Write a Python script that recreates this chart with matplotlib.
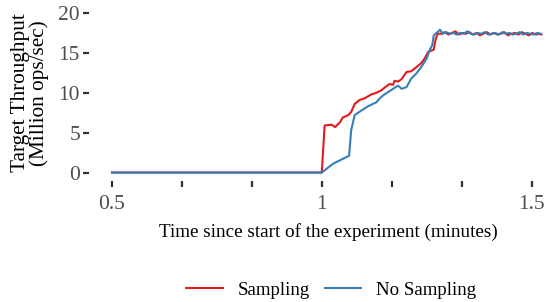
import matplotlib
matplotlib.use("Agg")
from matplotlib import pyplot as plt
import numpy as np

# Throughput over time (time in seconds since experiment start, throughput in Mops/s)
sec_sampling = [30, 60, 60.4, 61.4, 61.9, 62.6, 63.0, 63.8, 64.2, 64.7, 65.4, 66.1, 67.1, 67.8,
                68.5, 69.2, 69.7, 70.2, 70.4, 70.9, 71.4, 72.1, 72.8, 73.5, 74.2, 74.7, 75.2,
                75.7, 76.0, 76.3, 76.6, 77.1, 77.6, 78.1, 78.6, 79.1, 79.6, 80.1, 80.6, 81.1,
                81.6, 82.1, 82.6, 83.1, 83.6, 84.1, 84.6, 85.1, 85.6, 86.1, 86.6, 87.1, 87.6,
                88.1, 88.6, 89.1, 89.6, 90.1, 90.6, 91.1, 91.4]
thr_sampling = [0, 0, 5.9, 6.0, 5.7, 6.3, 6.9, 7.2, 7.6, 8.6, 9.1, 9.3, 9.8, 10.0,
                10.3, 10.8, 11.1, 11.0, 11.5, 11.4, 11.7, 12.6, 12.7, 13.2, 13.7, 14.3, 15.1,
                15.3, 15.4, 16.8, 17.4, 17.4, 17.6, 17.3, 17.5, 17.7, 17.3, 17.5, 17.4, 17.6,
                17.3, 17.5, 17.2, 17.4, 17.6, 17.3, 17.5, 17.3, 17.4, 17.6, 17.2, 17.4, 17.5,
                17.3, 17.6, 17.4, 17.2, 17.5, 17.3, 17.4, 17.3]

sec_nosampling = [30, 60, 61.6, 63.9, 64.2, 64.7, 65.7, 66.6, 67.3, 67.8, 68.3, 68.8, 69.5,
                  70.2, 70.9, 71.4, 72.1, 72.8, 73.5, 74.2, 75.0, 75.4, 75.8, 76.0, 76.4, 76.9,
                  77.3, 77.8, 78.3, 78.8, 79.3, 79.8, 80.3, 80.8, 81.3, 81.8, 82.3, 82.8, 83.3,
                  83.8, 84.3, 84.8, 85.3, 85.8, 86.3, 86.8, 87.3, 87.8, 88.3, 88.8, 89.3, 89.8,
                  90.3, 90.8, 91.3]
thr_nosampling = [0, 0, 1.1, 2.1, 5.3, 7.2, 7.8, 8.3, 8.6, 8.8, 9.3, 9.7, 10.1,
                  10.5, 10.9, 10.5, 10.7, 11.8, 12.4, 13.2, 14.3, 15.3, 16.0, 17.2, 17.5, 17.9,
                  17.4, 17.6, 17.4, 17.5, 17.3, 17.5, 17.4, 17.7, 17.4, 17.3, 17.5, 17.4, 17.6,
                  17.3, 17.4, 17.5, 17.3, 17.6, 17.4, 17.5, 17.3, 17.4, 17.6, 17.3, 17.5, 17.4,
                  17.3, 17.5, 17.4]

x_ticks = [0.5, 0.5 + 1 / 6, 0.5 + 2 / 6, 1.0, 1 + 1 / 6, 1 + 2 / 6, 1.5]
x_labels = ["0.5", "", "", "1", "", "", "1.5"]
y_ticks = [0, 5, 10, 15, 20]

plt.rcParams['font.family'] = ['Liberation Serif', 'DejaVu Serif']

fig = plt.figure(figsize=(5.49, 3.02), dpi=100)
# panel: x 89.5..543 px, y 5..180.5 px
ax = fig.add_axes([0.163, 0.4023, 0.826, 0.581])

ax.plot(np.array(sec_sampling) / 60, thr_sampling, color='#E41A1C', lw=1.5, label='Sampling')
ax.plot(np.array(sec_nosampling) / 60, thr_nosampling, color='#377EB8', lw=1.5, label='No Sampling')

ax.set_xlim(0.4464, 1.527)
ax.set_ylim(-1, 21)
ax.set_xticks(x_ticks)
ax.set_xticklabels(x_labels)
ax.set_yticks(y_ticks)

for s in ax.spines.values():
    s.set_visible(False)
ax.tick_params(axis='both', colors='#333333', labelcolor='#4D4D4D', labelsize=15.5, width=1.6,
               length=4.3)
ax.tick_params(axis='x', pad=6)
ax.tick_params(axis='y', pad=2.5)

ax.set_xlabel("Time since start of the experiment (minutes)", fontsize=13.8)
ax.xaxis.set_label_coords(0.527, -0.245)
ax.set_ylabel("Target Throughput\n(Million ops/sec)", fontsize=15.3, linespacing=0.92)
ax.yaxis.set_label_coords(-0.09, 0.5)

fig.legend(loc='center', bbox_to_anchor=(0.603, 0.04), ncol=2, frameon=False, fontsize=13.6,
           handlelength=1.95, columnspacing=0.8, handletextpad=0.75)

fig.savefig('out.png', dpi=100)
